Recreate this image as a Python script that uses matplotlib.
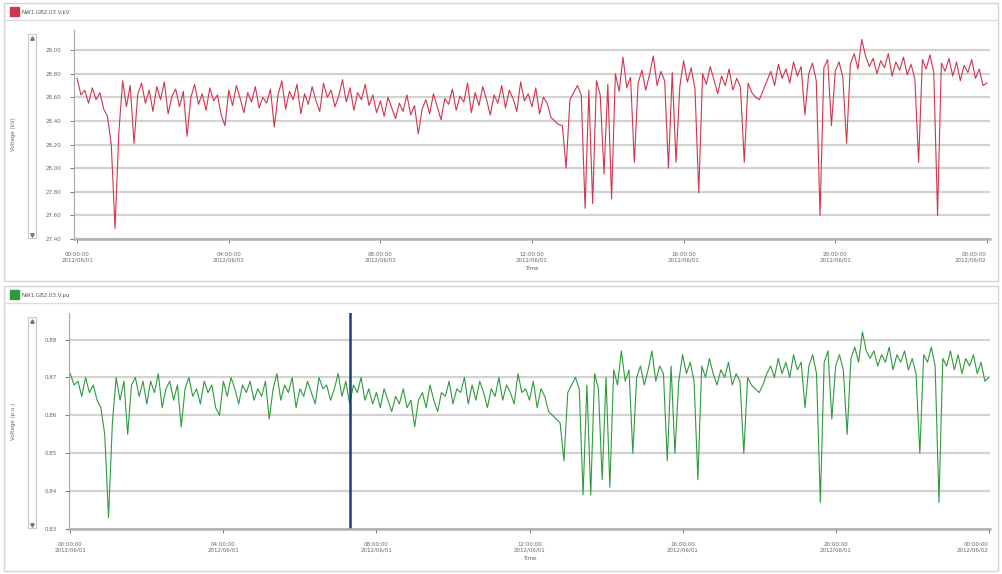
import numpy as np
import pandas as pd
import matplotlib
matplotlib.use("Agg")
import matplotlib.pyplot as plt
import matplotlib.dates as mdates
from matplotlib.patches import Rectangle
from matplotlib.lines import Line2D

# 데이터 (그림에서 읽은 값, 6분 간격)
times = pd.date_range("2012-06-01 00:00", periods=241, freq="6min")

volt_kv = [
    28.76, 28.62, 28.66, 28.55, 28.68, 28.58, 28.64, 28.50, 28.44, 28.20,
    27.49, 28.30, 28.74, 28.52, 28.70, 28.21, 28.63, 28.72, 28.55, 28.66,
    28.48, 28.69, 28.58, 28.73, 28.46, 28.61, 28.67, 28.52, 28.65, 28.27,
    28.60, 28.71, 28.54, 28.63, 28.49, 28.68, 28.57, 28.62, 28.45, 28.36,
    28.66, 28.53, 28.70, 28.59, 28.47, 28.64, 28.56, 28.69, 28.51, 28.60,
    28.55, 28.67, 28.35, 28.62, 28.74, 28.50, 28.65, 28.58, 28.71, 28.46,
    28.63, 28.54, 28.69, 28.57, 28.48, 28.72, 28.60, 28.66, 28.52, 28.61,
    28.75, 28.56, 28.68, 28.49, 28.64, 28.58, 28.71, 28.53, 28.62, 28.47,
    28.57, 28.44, 28.60, 28.51, 28.42, 28.55, 28.48, 28.62, 28.45, 28.53,
    28.29, 28.50, 28.58, 28.46, 28.63, 28.52, 28.41, 28.59, 28.54, 28.67,
    28.49, 28.61, 28.56, 28.72, 28.47, 28.64, 28.53, 28.69, 28.58, 28.45,
    28.62, 28.55, 28.70, 28.51, 28.66, 28.59, 28.48, 28.73, 28.57, 28.63,
    28.52, 28.68, 28.46, 28.60, 28.55, 28.43, 28.40, 28.37, 28.36, 28.00,
    28.58, 28.64, 28.70, 28.62, 27.66, 28.66, 27.70, 28.74, 28.62, 27.95,
    28.71, 27.74, 28.80, 28.65, 28.94, 28.68, 28.77, 28.05, 28.72, 28.83,
    28.66, 28.79, 28.95, 28.70, 28.82, 28.74, 28.00, 28.81, 28.05, 28.69,
    28.91, 28.73, 28.85, 28.67, 27.79, 28.80, 28.71, 28.86, 28.75, 28.63,
    28.78, 28.70, 28.84, 28.66, 28.76, 28.69, 28.05, 28.72, 28.64, 28.60,
    28.58, 28.66, 28.74, 28.82, 28.70, 28.88, 28.76, 28.84, 28.72, 28.90,
    28.78, 28.86, 28.45, 28.80, 28.89, 28.74, 27.60, 28.85, 28.92, 28.36,
    28.82, 28.90, 28.77, 28.21, 28.88, 28.97, 28.84, 29.09, 28.95, 28.86,
    28.93, 28.80, 28.91, 28.85, 28.97, 28.78, 28.90, 28.83, 28.94, 28.79,
    28.88, 28.76, 28.05, 28.92, 28.84, 28.96, 28.81, 27.60, 28.89, 28.82,
    28.93, 28.78, 28.90, 28.74, 28.87, 28.81, 28.92, 28.76, 28.84, 28.70,
    28.72,
]

volt_pu = [
    0.871, 0.868, 0.869, 0.865, 0.870, 0.866, 0.868, 0.864, 0.862, 0.855,
    0.833, 0.858, 0.870, 0.864, 0.869, 0.855, 0.868, 0.870, 0.865, 0.869,
    0.863, 0.869, 0.866, 0.871, 0.862, 0.867, 0.869, 0.864, 0.868, 0.857,
    0.867, 0.870, 0.865, 0.867, 0.863, 0.869, 0.866, 0.868, 0.862, 0.860,
    0.869, 0.865, 0.870, 0.867, 0.863, 0.868, 0.866, 0.869, 0.864, 0.867,
    0.865, 0.869, 0.859, 0.867, 0.871, 0.864, 0.868, 0.866, 0.870, 0.862,
    0.867, 0.865, 0.869, 0.866, 0.863, 0.870, 0.867, 0.868, 0.864, 0.867,
    0.871, 0.865, 0.869, 0.863, 0.868, 0.866, 0.870, 0.864, 0.867, 0.863,
    0.866, 0.862, 0.867, 0.864, 0.861, 0.865, 0.863, 0.867, 0.862, 0.864,
    0.857, 0.864, 0.866, 0.862, 0.868, 0.864, 0.861, 0.866, 0.865, 0.869,
    0.863, 0.867, 0.866, 0.870, 0.863, 0.868, 0.864, 0.869, 0.866, 0.862,
    0.867, 0.865, 0.870, 0.864, 0.868, 0.866, 0.863, 0.871, 0.866, 0.867,
    0.864, 0.869, 0.862, 0.867, 0.865, 0.861, 0.860, 0.859, 0.858, 0.848,
    0.866, 0.868, 0.870, 0.867, 0.839, 0.868, 0.839, 0.871, 0.867, 0.843,
    0.870, 0.841, 0.872, 0.868, 0.877, 0.869, 0.872, 0.850, 0.870, 0.873,
    0.868, 0.872, 0.877, 0.869, 0.873, 0.871, 0.848, 0.873, 0.850, 0.869,
    0.876, 0.871, 0.874, 0.869, 0.843, 0.873, 0.870, 0.875, 0.871, 0.868,
    0.872, 0.870, 0.874, 0.868, 0.871, 0.869, 0.850, 0.870, 0.868, 0.867,
    0.866, 0.868, 0.871, 0.873, 0.870, 0.875, 0.871, 0.874, 0.870, 0.876,
    0.872, 0.874, 0.862, 0.873, 0.876, 0.871, 0.837, 0.874, 0.877, 0.859,
    0.873, 0.876, 0.872, 0.855, 0.875, 0.878, 0.874, 0.882, 0.877, 0.875,
    0.877, 0.873, 0.876, 0.874, 0.878, 0.872, 0.876, 0.874, 0.877, 0.872,
    0.875, 0.871, 0.850, 0.876, 0.874, 0.878, 0.873, 0.837, 0.875, 0.873,
    0.877, 0.872, 0.876, 0.871, 0.875, 0.873, 0.876, 0.871, 0.874, 0.869,
    0.870,
]

kv_ticks = [27.40, 27.60, 27.80, 28.00, 28.20, 28.40, 28.60, 28.80, 29.00]
pu_ticks = [0.83, 0.84, 0.85, 0.86, 0.87, 0.88]
cursor_time = pd.Timestamp("2012-06-01 07:18")

W, H = 1002, 574
fig = plt.figure(figsize=(W / 100, H / 100), dpi=100)
fig.patch.set_facecolor("white")


def fx(px):
    return px / W


def fy(py):
    return 1 - py / H


def panel(top, bot, left, name, color, ylabel, series, ticks, ylim, pad_min):
    # 패널 테두리와 헤더
    fig.add_artist(Rectangle((fx(4), fy(bot)), fx(994), (bot - top) / H, fill=False,
                             ec="#d4d4d4", lw=1.0, transform=fig.transFigure))
    fig.add_artist(Line2D([fx(4), fx(998)], [fy(top + 17), fy(top + 17)], color="#dcdcdc",
                          lw=1.0, transform=fig.transFigure))
    fig.add_artist(Rectangle((fx(10), fy(top + 13)), fx(9), 9 / H, color=color,
                             transform=fig.transFigure))
    fig.text(fx(22), fy(top + 9), name, fontsize=4, color="#555555", va="center")

    ax_top = top + 27
    ax_bot = bot - 42

    # 범위 슬라이더 모양
    fig.add_artist(Rectangle((fx(28), fy(ax_bot - 1)), fx(8), (ax_bot - ax_top - 5) / H,
                             fill=False, ec="#c8c8c8", lw=0.8, transform=fig.transFigure))
    fig.add_artist(Line2D([fx(32)], [fy(ax_top + 8)], marker="^", ms=2.5, color="#777777",
                          transform=fig.transFigure))
    fig.add_artist(Line2D([fx(32)], [fy(ax_bot - 4)], marker="v", ms=2.5, color="#777777",
                          transform=fig.transFigure))

    ax = fig.add_axes([fx(left), fy(ax_bot), fx(990 - left), (ax_bot - ax_top) / H])
    ax.plot(times, series, color=color, lw=0.8)
    ax.set_ylim(*ylim)
    ax.set_yticks(ticks)
    ax.set_yticklabels([f"{t:.2f}" for t in ticks])
    ax.set_xlim(times[0] - pd.Timedelta(minutes=pad_min), times[-1] + pd.Timedelta(minutes=pad_min))
    ax.xaxis.set_major_locator(mdates.HourLocator(byhour=range(0, 24, 4)))
    ax.xaxis.set_major_formatter(mdates.DateFormatter("%H:%M:%S\n%Y/%m/%d"))
    ax.grid(axis="y", color="#d2d2d2", lw=1.6)
    ax.set_axisbelow(True)
    for s in ["top", "right"]:
        ax.spines[s].set_visible(False)
    ax.spines["left"].set_color("#a8a8a8")
    ax.spines["bottom"].set_color("#b0b0b0")
    ax.spines["bottom"].set_linewidth(1.8)
    ax.tick_params(labelsize=4, colors="#666666", length=3, width=0.6, pad=6)
    ax.set_xlabel("Time", fontsize=4, color="#666666", labelpad=3)
    fig.text(fx(14), fy((ax_top + ax_bot) / 2), ylabel, rotation=90, fontsize=4,
             color="#666666", va="center", ha="center")
    fig.canvas.draw()
    ax.get_xticklabels()[-1].set_horizontalalignment("right")
    return ax


ax1 = panel(3, 281, 74, "NW1.GB2.03.V.kV", "#d0354f", "Voltage (kV)", volt_kv,
            kv_ticks, (27.40, 29.17), 5)
ax2 = panel(286, 571, 69, "NW1.GB2.03.V.pu", "#2f9a3c", "Voltage (p.u.)", volt_pu,
            pu_ticks, (0.83, 0.887), 2)
ax2.axvline(cursor_time, color="#1d3f78", lw=1.8)

fig.savefig("out.png", dpi=100)
